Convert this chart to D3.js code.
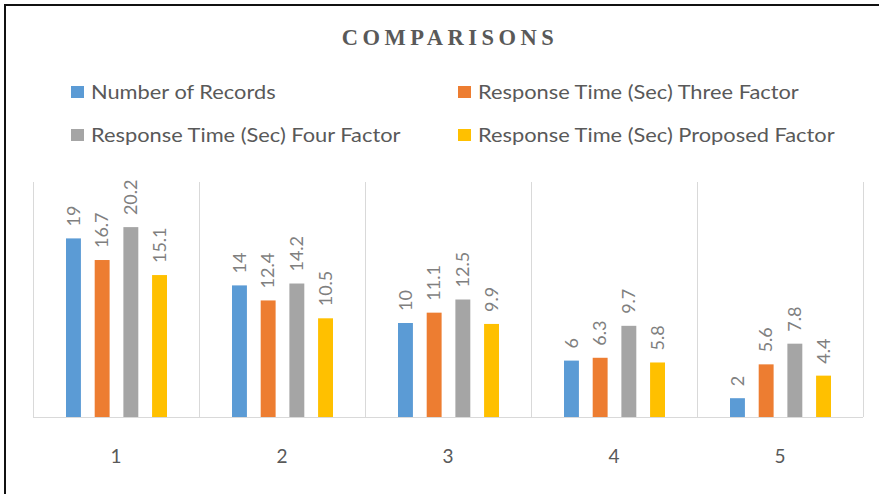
<!DOCTYPE html>
<html>
<head>
<meta charset="utf-8">
<script src="https://cdn.jsdelivr.net/npm/d3@7"></script>
<style>
  html, body { margin: 0; padding: 0; background: #fff; }
  svg { display: block; }
</style>
</head>
<body>
<svg id="chart" width="879" height="494"></svg>
<script>
// Chart data
const categories = ["1", "2", "3", "4", "5"];
const seriesNames = [
  "Number of Records",
  "Response Time (Sec) Three Factor",
  "Response Time (Sec) Four Factor",
  "Response Time (Sec) Proposed Factor"
];
const numberOfRecords = [19, 14, 10, 6, 2];
const threeFactor = [16.7, 12.4, 11.1, 6.3, 5.6];
const fourFactor = [20.2, 14.2, 12.5, 9.7, 7.8];
const proposedFactor = [15.1, 10.5, 9.9, 5.8, 4.4];
const seriesColors = ["#5B9BD5", "#ED7D31", "#A5A5A5", "#FFC000"];

const seriesValues = [numberOfRecords, threeFactor, fourFactor, proposedFactor];

const svg = d3.select("#chart");
const W = 879, H = 494;
const fontUI = "Lato, 'Open Sans', 'Liberation Sans', sans-serif";

// Frame lines (top and left)
svg.append("line").attr("x1", 4).attr("x2", W).attr("y1", 5).attr("y2", 5)
  .attr("stroke", "#111").attr("stroke-width", 2);
svg.append("line").attr("x1", 5).attr("x2", 5).attr("y1", 4).attr("y2", H)
  .attr("stroke", "#111").attr("stroke-width", 2);

// Title
svg.append("text")
  .attr("x", 450).attr("y", 45)
  .attr("text-anchor", "middle")
  .attr("font-family", "'Liberation Serif', 'Times New Roman', serif")
  .attr("font-weight", "bold")
  .attr("font-size", 22.5)
  .attr("letter-spacing", 4.5)
  .attr("fill", "#595959")
  .text("COMPARISONS");

// Legend
const legendPos = [
  { x: 71, y: 92 }, { x: 458, y: 92 },
  { x: 71, y: 135 }, { x: 458, y: 135 }
];
const legend = svg.append("g");
seriesNames.forEach((name, i) => {
  const g = legend.append("g").attr("transform", `translate(${legendPos[i].x},${legendPos[i].y})`);
  g.append("rect").attr("x", 0).attr("y", -6).attr("width", 13).attr("height", 12)
    .attr("fill", seriesColors[i]);
  g.append("text").attr("x", 20).attr("y", 0).attr("dy", "0.35em")
    .attr("transform", "translate(20,0) scale(1.12,1) translate(-20,0)")
    .attr("font-family", fontUI).attr("font-size", 19.5).attr("fill", "#595959")
    .text(name);
});

// Scales
const plotLeft = 33, plotRight = 863, plotTop = 182, plotBottom = 417;
const x0 = d3.scaleBand().domain(categories).range([plotLeft, plotRight]).paddingInner(0).paddingOuter(0);
const x1 = d3.scaleBand().domain(d3.range(seriesNames.length)).range([33, 134]).paddingInner(0.48).paddingOuter(0);
const y = d3.scaleLinear().domain([0, 25]).range([plotBottom, plotTop]);

// Category separators
const sepXs = categories.map(c => x0(c)).concat([plotRight]);
svg.append("g").selectAll("line").data(sepXs).join("line")
  .attr("x1", d => d + 0.5).attr("x2", d => d + 0.5)
  .attr("y1", plotTop).attr("y2", plotBottom)
  .attr("stroke", "#d9d9d9").attr("stroke-width", 1);

// Bars
const groups = svg.append("g").selectAll("g").data(categories).join("g")
  .attr("transform", c => `translate(${x0(c)},0)`);

groups.each(function(c, ci) {
  const g = d3.select(this);
  seriesValues.forEach((vals, si) => {
    const v = vals[ci];
    const bx = x1(si);
    const bw = x1.bandwidth();
    g.append("rect")
      .attr("x", bx).attr("y", y(v))
      .attr("width", bw).attr("height", y(0) - y(v))
      .attr("fill", seriesColors[si]);
    g.append("text")
      .attr("transform", `translate(${bx + bw / 2},${y(v) - 12}) rotate(-90)`)
      .attr("dy", "0.35em")
      .attr("text-anchor", "start")
      .attr("font-family", fontUI).attr("font-size", 18).attr("fill", "#7f7f7f")
      .text(v);
  });
});

// X axis
const xAxis = svg.append("g").attr("transform", `translate(0,${plotBottom})`)
  .call(d3.axisBottom(x0).tickSize(0).tickPadding(33));
xAxis.select(".domain").attr("stroke", "#d9d9d9").attr("d", `M${plotLeft},0.5H${plotRight}`);
xAxis.selectAll("text")
  .attr("font-family", fontUI).attr("font-size", 19).attr("fill", "#595959");
</script>
</body>
</html>
